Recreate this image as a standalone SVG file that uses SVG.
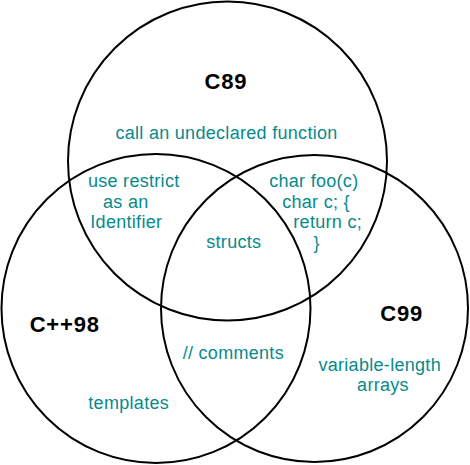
<svg xmlns="http://www.w3.org/2000/svg" width="470" height="465" viewBox="0 0 470 465">
<style>
.c{fill:none;stroke:#000;stroke-width:2}
.t{font-family:"Liberation Sans",Arial,sans-serif;font-size:18px;fill:#078a8c;text-anchor:middle;letter-spacing:0.3px}
.h{font-family:"Liberation Sans",Arial,sans-serif;font-size:22px;font-weight:bold;fill:#000;text-anchor:middle;letter-spacing:0.8px}
</style>
<rect width="470" height="465" fill="#fff"/>
<g id="c89">
<circle class="c" cx="227.5" cy="161" r="159.5"/>
<text class="h" x="226" y="88.5">C89</text>
<text class="t" x="226.5" y="138.5">call an undeclared function</text>
</g>
<g id="cpp98">
<circle class="c" cx="156" cy="308.5" r="154.5"/>
<text class="h" x="64.7" y="332">C++98</text>
<text class="t" x="128.7" y="408.5">templates</text>
</g>
<g id="c99">
<circle class="c" cx="314.5" cy="308.5" r="153.5"/>
<text class="h" x="401.7" y="321">C99</text>
<text class="t" x="379.7" y="371">variable-length</text>
<text class="t" x="383" y="391">arrays</text>
</g>
<g id="c89-cpp98">
<text class="t" x="133.7" y="186.7">use restrict</text>
<text class="t" x="125.8" y="207.7">as an</text>
<text class="t" x="126.3" y="228.3">Identifier</text>
</g>
<g id="c89-c99">
<text class="t" x="313.8" y="186.7">char foo(c)</text>
<text class="t" x="316" y="207.7">char c; {</text>
<text class="t" x="327.7" y="228.3">return c;</text>
<text class="t" x="316.7" y="248.7">}</text>
</g>
<g id="all">
<text class="t" x="233.8" y="248.3">structs</text>
</g>
<g id="cpp98-c99">
<text class="t" x="233.3" y="359">// comments</text>
</g>
<g id="connectors"></g>
</svg>
